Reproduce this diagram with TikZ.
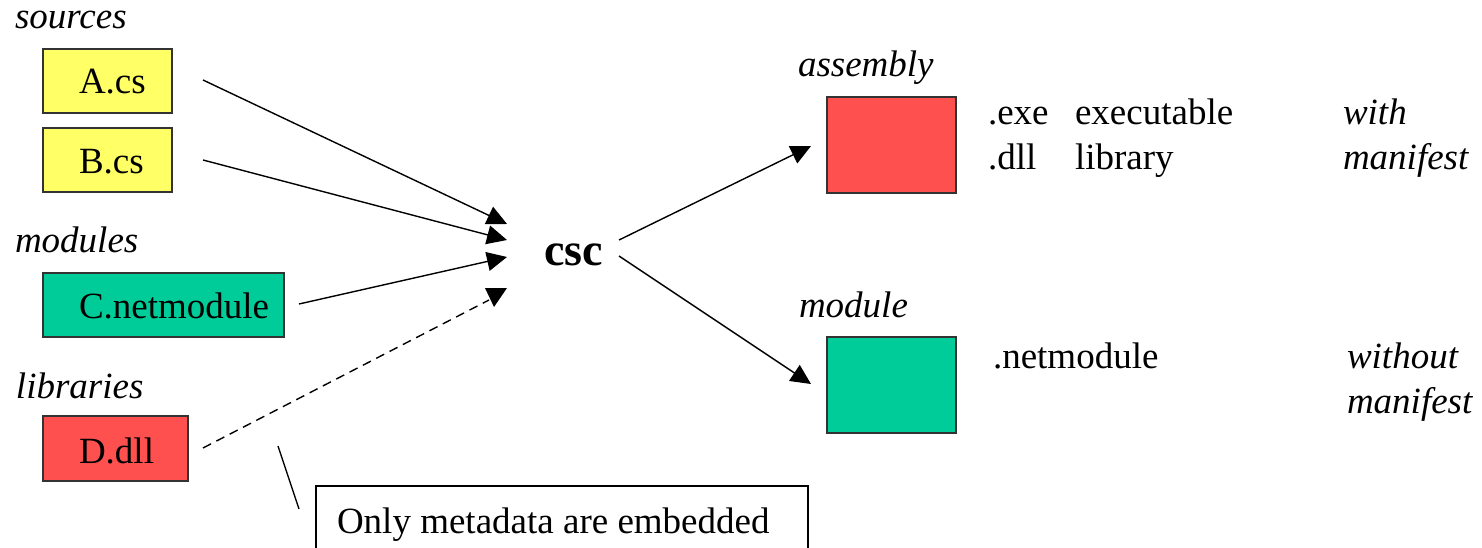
\documentclass[tikz,border=0pt]{standalone}
\usepackage{fontspec}
\setmainfont{Liberation Serif}
\usetikzlibrary{arrows.meta}
\definecolor{srcyellow}{HTML}{FFFF66}
\definecolor{modgreen}{HTML}{00CC99}
\definecolor{libred}{HTML}{FF5050}
\definecolor{edgegray}{HTML}{333333}
\begin{document}
\begin{tikzpicture}[x=1pt,y=-1pt,
  every node/.style={inner sep=0pt, outer sep=0pt, font=\fontsize{37}{44}\selectfont},
  lbl/.style={anchor=base west, font=\fontsize{37}{44}\selectfont\itshape},
  txt/.style={anchor=base west},
  filebox/.style={draw=edgegray, line width=1.4pt, anchor=north west},
  conn/.style={line width=1.4pt, -{Triangle[length=20pt,width=19pt]}},
  dconn/.style={line width=1.4pt, dash pattern=on 9pt off 6pt},
]
\useasboundingbox (0,0) rectangle (1482,548);
\fill[white] (0,0) rectangle (1482,548);

% left column
\node[lbl] (lsrc) at (15,29) {sources};
\node[filebox, fill=srcyellow, minimum width=129pt, minimum height=64pt] (A) at (43,49) {};
\node[txt] (At) at (79,94) {A.cs};
\node[filebox, fill=srcyellow, minimum width=129pt, minimum height=64pt] (B) at (43,128) {};
\node[txt] (Bt) at (79,174) {B.cs};
\node[lbl] (lmod) at (15,252) {modules};
\node[filebox, fill=modgreen, minimum width=241pt, minimum height=64pt] (C) at (43,273) {};
\node[txt] (Ct) at (79,318) {C.netmodule};
\node[lbl] (llib) at (16,398) {libraries};
\node[filebox, fill=libred, minimum width=145pt, minimum height=65pt] (D) at (43,416) {};
\node[txt] (Dt) at (79,463) {D.dll};

% compiler
\node[anchor=base west, font=\fontsize{46}{55}\selectfont\bfseries] (csc) at (544,265) {csc};

% right column
\node[lbl] (lasm) at (798,77) {assembly};
\node[filebox, fill=libred, minimum width=129pt, minimum height=96pt] (asm) at (827,97) {};
\node[txt] (exe) at (988,125) {.exe};
\node[txt] (exed) at (1075,125) {executable};
\node[txt] (dll) at (988,170) {.dll};
\node[txt] (dlld) at (1075,170) {library};
\node[lbl] (with) at (1343,125) {with};
\node[lbl] (man1) at (1343,170) {manifest};

\node[lbl] (lmodule) at (799,317) {module};
\node[filebox, fill=modgreen, minimum width=129pt, minimum height=96pt] (mod) at (827,337) {};
\node[txt] (netm) at (993,368) {.netmodule};
\node[lbl] (without) at (1347,368) {without};
\node[lbl] (man2) at (1347,413) {manifest};

% note
\node[draw=black, line width=1.4pt, anchor=north west, minimum width=492pt, minimum height=80pt] (note) at (316,486) {};
\node[txt] (notet) at (337,533) {Only metadata are embedded};

% connector end points
\coordinate (a1) at (203,80);   \coordinate (a2) at (507,224);
\coordinate (b1) at (203,160);  \coordinate (b2) at (507,240);
\coordinate (c1) at (299,304);  \coordinate (c2) at (507,257);
\coordinate (d1) at (203,448);  \coordinate (d2) at (489,300);
\coordinate (o1) at (619,240);  \coordinate (o2) at (811,146);
\coordinate (p1) at (619,256);  \coordinate (p2) at (811,384);
\coordinate (n1) at (278,446);  \coordinate (n2) at (299,509);

\draw[conn] (a1) -- (a2);
\draw[conn] (b1) -- (b2);
\draw[conn] (c1) -- (c2);
\draw[dconn] (d1) -- (d2);
\fill (485,288) -- (507,288) -- (494,307) -- cycle;
\draw[conn] (o1) -- (o2);
\draw[conn] (p1) -- (p2);
\draw[line width=1.4pt] (n1) -- (n2);
\end{tikzpicture}
\end{document}
